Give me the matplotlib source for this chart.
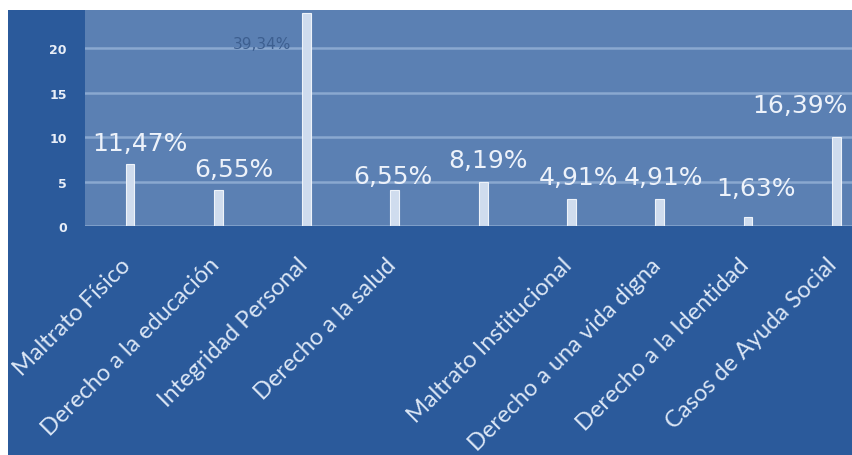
import matplotlib.pyplot as plt
from matplotlib.patches import Rectangle
from matplotlib.transforms import ScaledTranslation

# Casos atendidos por tipo (conteos y porcentajes del total de 61)
categorias = ["Maltrato Físico", "Derecho a la educación", "Integridad Personal",
              "Derecho a la salud", "", "Maltrato Institucional",
              "Derecho a una vida digna", "Derecho a la Identidad",
              "Casos de Ayuda Social"]
casos = [7, 4, 24, 4, 5, 3, 3, 1, 10]
porcentajes = ["11,47%", "6,55%", "39,34%", "6,55%", "8,19%",
               "4,91%", "4,91%", "1,63%", "16,39%"]

# desplazamiento de cada etiqueta respecto a la punta de su barra (pixeles)
dx_etiqueta = [10, 16, -45, -2, 5, 7, 4, 8, -36]
dy_etiqueta = [21, 21, -31, 14, 22, 22, 22, 29, 32]

W, H = 853, 456
fig = plt.figure(figsize=(W / 100, H / 100), dpi=100)
fig.patch.set_facecolor("white")
fondo = Rectangle((8 / W, 0), 1, (H - 11) / H, transform=fig.transFigure,
                  facecolor="#2b5a9b", edgecolor="none", zorder=-5)
fig.patches.append(fondo)

ax = fig.add_axes([85 / W, 1 - 227 / H, 1 - 85 / W, 216 / H])
ax.set_zorder(1)
ax.set_facecolor("#5b80b3")
for s in ax.spines.values():
    s.set_visible(False)

x = list(range(len(casos)))
ax.bar(x, casos, width=0.1, color="#cfdcee", edgecolor="#eef3fa", linewidth=0.8, zorder=3)

ax.set_xlim(-0.51, 8.19)
ax.set_ylim(0, 24.3)
ax.set_yticks([0, 5, 10, 15, 20])
ax.yaxis.grid(True, color="#8aa8d0", linewidth=1.8, zorder=1)
ax.set_axisbelow(True)
ax.tick_params(axis="y", length=0, pad=13, labelsize=9, labelcolor="#e8eef8")
for t in ax.get_yticklabels():
    t.set_fontweight("bold")

ax.set_xticks(x)
ax.set_xticklabels(categorias, rotation=45, ha="right", va="top", rotation_mode="anchor",
                   fontsize=17, family="Lato", color="#dbe6f5")
ax.tick_params(axis="x", length=0, pad=20)
desplazar = ScaledTranslation(-0.1, 0, fig.dpi_scale_trans)
for t in ax.get_xticklabels():
    t.set_transform(t.get_transform() + desplazar)

for i, (v, p) in enumerate(zip(casos, porcentajes)):
    oscuro = i == 2
    ax.annotate(p, (i, v), xytext=(dx_etiqueta[i], dy_etiqueta[i]), textcoords="offset pixels",
                ha="center", va="center",
                fontsize=11 if oscuro else 18,
                color="#3d5f90" if oscuro else "#edf2fa", zorder=2 if oscuro else 4)

fig.savefig("out.png", dpi=100, facecolor=fig.get_facecolor())
